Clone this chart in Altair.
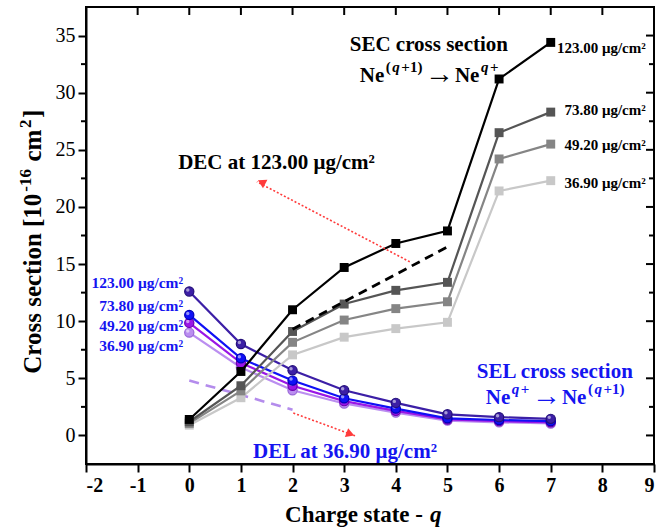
import altair as alt
import pandas as pd

# ---------------- data ----------------
q = [0, 1, 2, 3, 4, 5, 6, 7]
thickness = ["123.00", "73.80", "49.20", "36.90"]

sec_123 = [1.4, 5.6, 11.0, 14.7, 16.8, 17.9, 31.2, 34.4]
sec_73 = [1.2, 4.35, 9.1, 11.5, 12.7, 13.4, 26.5, 28.3]
sec_49 = [1.05, 3.9, 8.15, 10.1, 11.1, 11.7, 24.2, 25.5]
sec_36 = [0.9, 3.3, 7.05, 8.6, 9.35, 9.9, 21.4, 22.3]

sel_123 = [12.6, 8.0, 5.7, 3.95, 2.85, 1.85, 1.6, 1.45]
sel_73 = [10.55, 6.75, 4.8, 3.25, 2.35, 1.5, 1.35, 1.25]
sel_49 = [9.85, 6.35, 4.35, 3.0, 2.15, 1.4, 1.25, 1.15]
sel_36 = [9.0, 5.95, 3.95, 2.8, 2.0, 1.3, 1.15, 1.05]

dec_q = [2, 3, 4, 5]
dec_123 = [9.3, 11.7, 14.1, 16.5]
del_q = [0, 1, 2]
del_36 = [4.8, 3.55, 2.25]

x_ticks = [-2, -1, 0, 1, 2, 3, 4, 5, 6, 7, 8, 9]
y_ticks = [0, 5, 10, 15, 20, 25, 30, 35]
y_minor = [2.5, 7.5, 12.5, 17.5, 22.5, 27.5, 32.5]

# ---------------- style ----------------
W, H = 568, 457
FONT = "Liberation Serif"
BLUE = "#1414f0"
RED = "#ff3b3b"
SEC_COLORS = ["#000000", "#555555", "#858585", "#c8c8c8"]
SEL_COLORS = ["#3c1fa6", "#1010f5", "#9a16e6", "#bb8ef0"]
SEL_STROKES = ["#24107a", "#0000b8", "#6e00b0", "#9a68d8"]
DEL_COLOR = "#b48cec"

xs = alt.Scale(domain=[-2, 9], nice=False, zero=False)
ys = alt.Scale(domain=[-2.5, 37.5], nice=False, zero=False)

x_axis = alt.Axis(values=x_ticks, labelExpr="'' + datum.value", title=None, grid=False,
                  tickSize=8, tickWidth=2, tickColor="black",
                  domainColor="black", domainWidth=2,
                  labelFont=FONT, labelFontSize=20, labelFontWeight="bold",
                  labelColor="black", labelPadding=3)
y_axis = alt.Axis(values=y_ticks, format="d", grid=False, title=None,
                  tickSize=8, tickWidth=2, tickColor="black",
                  domainColor="black", domainWidth=2,
                  labelFont=FONT, labelFontSize=20, labelFontWeight="normal",
                  labelColor="black", labelPadding=3)


def X(field):
    return alt.X(field, type="quantitative", scale=xs, axis=x_axis)


def Y(field):
    return alt.Y(field, type="quantitative", scale=ys, axis=y_axis)


layers = []

# SEL (electron loss) series, circles
for vals, col, stk in reversed(list(zip([sel_123, sel_73, sel_49, sel_36], SEL_COLORS, SEL_STROKES))):
    df = pd.DataFrame({"q": q, "v": vals})
    base = alt.Chart(df)
    layers.append(base.mark_line(color=col, strokeWidth=2.2).encode(x=X("q"), y=Y("v")))
    layers.append(base.mark_point(shape="circle", filled=True, size=85, color=col,
                                  stroke=stk, strokeWidth=1.2, opacity=1).encode(x=X("q"), y=Y("v")))
    layers.append(base.mark_point(shape="circle", filled=True, size=12, color="white",
                                  opacity=0.55, xOffset=-1.5, yOffset=-1.5).encode(x=X("q"), y=Y("v")))

# DEL dashed
df_del = pd.DataFrame({"q": del_q, "v": del_36})
layers.append(alt.Chart(df_del).mark_line(color=DEL_COLOR, strokeWidth=2.6, strokeDash=[10, 7])
              .encode(x=X("q"), y=Y("v")))

# SEC series, squares (lightest drawn first)
for vals, col in reversed(list(zip([sec_123, sec_73, sec_49, sec_36], SEC_COLORS))):
    df = pd.DataFrame({"q": q, "v": vals})
    base = alt.Chart(df)
    layers.append(base.mark_line(color=col, strokeWidth=2.2).encode(x=X("q"), y=Y("v")))
    layers.append(base.mark_point(shape="square", filled=True, size=80, color=col, opacity=1)
                  .encode(x=X("q"), y=Y("v")))

# DEC dashed
df_dec = pd.DataFrame({"q": dec_q, "v": dec_123})
layers.append(alt.Chart(df_dec).mark_line(color="black", strokeWidth=2.8, strokeDash=[9, 6])
              .encode(x=X("q"), y=Y("v")))

# red dotted arrows
arrows = pd.DataFrame({
    "id": ["a", "a", "b", "b"],
    "o": [0, 1, 0, 1],
    "x": [4.27, 1.31, 2.015, 3.21],
    "y": [15.2, 22.2, 1.96, -0.03],
})
layers.append(alt.Chart(arrows).mark_line(color=RED, strokeWidth=1.6, strokeDash=[2, 2])
              .encode(x=X("x"), y=Y("y"), detail="id:N", order="o:Q"))
heads = pd.DataFrame({"x": [1.40, 3.12], "y": [22.18, 0.12], "ang": [297.6, 110.0]})
layers.append(alt.Chart(heads).mark_point(shape="triangle-up", filled=True, size=90, color=RED, opacity=1)
              .encode(x=X("x"), y=Y("y"), angle=alt.Angle("ang:Q", scale=None)))

# minor/inward ticks of the frame
df_top = pd.DataFrame({"v": x_ticks[1:-1]})
layers.append(alt.Chart(df_top).mark_rule(color="black", strokeWidth=2)
              .encode(x=X("v"), y=alt.value(0), y2=alt.value(8)))
df_rmaj = pd.DataFrame({"v": y_ticks})
layers.append(alt.Chart(df_rmaj).mark_rule(color="black", strokeWidth=2)
              .encode(y=Y("v"), x=alt.value(W - 8), x2=alt.value(W)))
df_rmin = pd.DataFrame({"v": y_minor})
layers.append(alt.Chart(df_rmin).mark_rule(color="black", strokeWidth=2)
              .encode(y=Y("v"), x=alt.value(W - 5), x2=alt.value(W)))
layers.append(alt.Chart(df_rmin).mark_rule(color="black", strokeWidth=2)
              .encode(y=Y("v"), x=alt.value(-5), x2=alt.value(0)))


# ---------------- text ----------------
def text_at(x, y, txt, size, color="black", align="left", baseline="middle",
            italic=False, weight="bold", dx=0, dy=0, angle=0, pixel=False):
    df = pd.DataFrame({"t": [txt]})
    if pixel:
        enc = dict(x=alt.value(x), y=alt.value(y))
    else:
        df["x"] = [x]
        df["y"] = [y]
        enc = dict(x=X("x"), y=Y("y"))
    return alt.Chart(df).mark_text(
        font=FONT, fontSize=size, fontWeight=weight,
        fontStyle="italic" if italic else "normal",
        color=color, align=align, baseline=baseline, dx=dx, dy=dy, angle=angle,
    ).encode(text="t:N", **enc)


WIDTHS = {"N": .722, "e": .444, "(": .333, ")": .333, "+": .570, "1": .5, "q": .5,
          "C": .722, "r": .444, "o": .5, "s": .389, " ": .25, "c": .444, "t": .333,
          "i": .278, "n": .556, "[": .333, "]": .333, "0": .5, "-": .333, "6": .5,
          "m": .833, "2": .5}
GAP = 1.5


def piece_width(t, s, slot):
    if slot is not None:
        return slot
    return sum(WIDTHS.get(c, .5) for c in t) * s + GAP


def rich(x, y, parts, color, angle=0, pixel=False):
    """parts: (text, size, italic, raise_px, slot_px or None); centred on x, baseline at y."""
    total = sum(piece_width(t, s, sl) for t, s, _, _, sl in parts)
    off = -total / 2
    out = []
    for t, s, it, r, sl in parts:
        w = piece_width(t, s, sl)
        if t:
            if sl is None:
                out.append(text_at(x, y, t, s, color=color, baseline="alphabetic", italic=it,
                                   dx=off, dy=-r, angle=angle, pixel=pixel))
            else:
                out.append(text_at(x, y, t, s, color=color, baseline="alphabetic", italic=it,
                                   dx=off + w / 2, dy=-r, align="center", angle=angle, pixel=pixel))
        off += w
    return out


ARROW = ("→", 29, False, -1, 31)
layers.append(text_at(4.64, 34.18, "SEC cross section", 21, align="center"))
layers += rich(4.66, 30.94, [("Ne", 21, False, 0, None), ("(", 15, False, 10, None),
                            ("q", 15, True, 10, None), ("+1)", 15, False, 10, None), ARROW,
                            ("Ne", 21, False, 0, None), ("q", 15, True, 10, None),
                            ("+", 15, False, 10, None)], "black")
layers.append(text_at(7.08, 5.57, "SEL cross section", 21, color=BLUE, align="center"))
layers += rich(7.10, 2.77, [("Ne", 21, False, 0, None), ("q", 15, True, 10, None),
                           ("+", 15, False, 10, None), ARROW, ("Ne", 21, False, 0, None),
                           ("(", 15, False, 10, None), ("q", 15, True, 10, None),
                           ("+1)", 15, False, 10, None)], BLUE)
layers.append(text_at(-0.215, 23.86, "DEC at 123.00 μg/cm²", 21))
layers.append(text_at(1.236, -1.43, "DEL at 36.90 μg/cm²", 21, color=BLUE))

left_y = [13.33, 11.29, 9.54, 7.85]
right_y = [33.95, 28.5, 25.43, 22.13]
for th, ly, ry in zip(thickness, left_y, right_y):
    layers.append(text_at(-0.118, ly, f"{th} μg/cm²", 15.5, color=BLUE, align="right"))
    layers.append(text_at(8.84, ry, f"{th} μg/cm²", 15, align="right"))

# y-axis title (rotated, with superscripts)
layers += rich(-45, 234, [("Cross section [10", 25, False, 0, None), ("-16", 17, False, 10, None),
                          ("", 0, False, 0, 6), ("cm", 25, False, 0, None), ("2", 17, False, 10, None),
                          ("]", 25, False, 0, None)], "black", angle=270, pixel=True)

# x-axis title with italic q
xt = pd.DataFrame({"t": ["Charge state -"]})
layers.append(alt.Chart(xt).mark_text(font=FONT, fontSize=23, fontWeight="bold", color="black",
                                      align="right", baseline="middle")
              .encode(x=alt.value(W / 2 + 53), y=alt.value(H + 51), text="t:N"))
xq = pd.DataFrame({"t": ["q"]})
layers.append(alt.Chart(xq).mark_text(font=FONT, fontSize=23, fontWeight="bold", fontStyle="italic",
                                      color="black", align="left", baseline="middle")
              .encode(x=alt.value(W / 2 + 60), y=alt.value(H + 51), text="t:N"))

chart = alt.layer(*layers).properties(
    width=W, height=H,
    autosize=alt.AutoSizeParams(type="none"),
    padding={"left": 86, "top": 7, "right": 3, "bottom": 68},
    background="white",
).configure_view(stroke="black", strokeWidth=2)

chart.save("out.html", embed_options={"renderer": "svg", "actions": False})
